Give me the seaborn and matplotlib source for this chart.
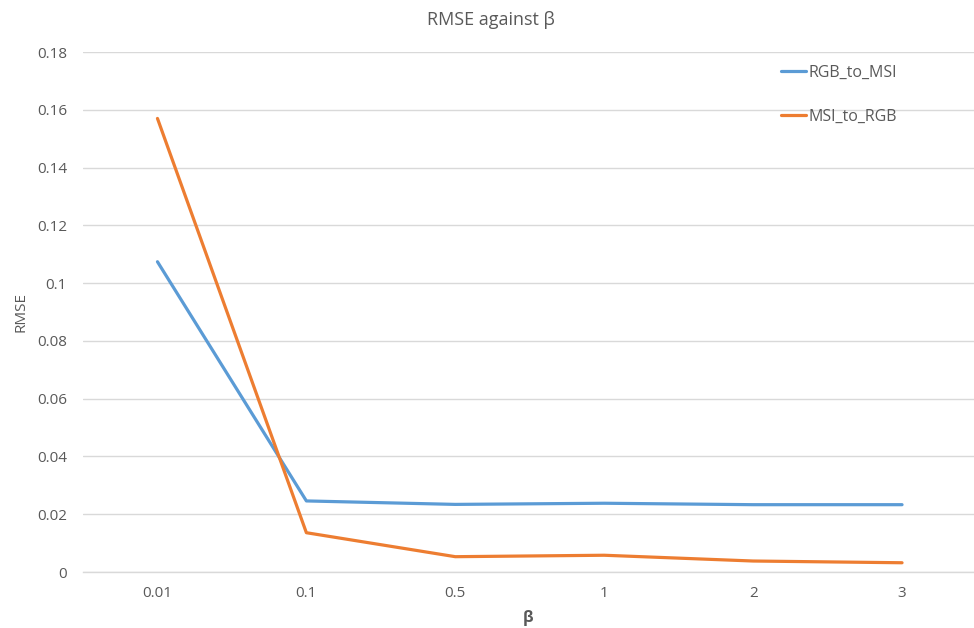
import numpy as np
import pandas as pd
import matplotlib
matplotlib.use("Agg")
import matplotlib.pyplot as plt
import seaborn as sns

categories = ["0.01", "0.1", "0.5", "1", "2", "3"]
rgb_to_msi = [0.1074, 0.0246, 0.0234, 0.0238, 0.0233, 0.0233]
msi_to_rgb = [0.1570, 0.0136, 0.0053, 0.0058, 0.0038, 0.0032]
series_names = ["RGB_to_MSI", "MSI_to_RGB"]
y_ticks = [0, 0.02, 0.04, 0.06, 0.08, 0.1, 0.12, 0.14, 0.16, 0.18]
y_tick_labels = ["0", "0.02", "0.04", "0.06", "0.08", "0.1", "0.12", "0.14", "0.16", "0.18"]

pos = np.arange(len(categories))
df = pd.DataFrame({
    "pos": np.concatenate([pos, pos]),
    "value": rgb_to_msi + msi_to_rgb,
    "series": [series_names[0]] * len(categories) + [series_names[1]] * len(categories),
})

sns.set_theme(style="white")
plt.rcParams["font.family"] = ["Open Sans", "DejaVu Sans"]
txt = "#595959"

W, H = 974, 628
left_px, right_px, top_px, bottom_px = 83, 976.5, 52, 572
fig = plt.figure(figsize=(W / 100, H / 100), dpi=100)
ax = fig.add_axes([left_px / W, 1 - bottom_px / H, (right_px - left_px) / W,
                   (bottom_px - top_px) / H])

sns.lineplot(data=df, x="pos", y="value", hue="series", hue_order=series_names,
             palette=["#5B9BD5", "#ED7D31"], linewidth=2.3, sort=False, ax=ax,
             legend=True)

ax.set_xlim(-0.5, 5.5)
ax.set_ylim(0, 0.18)
ax.set_yticks(y_ticks)
ax.set_yticklabels(y_tick_labels)
ax.set_xticks(pos)
ax.set_xticklabels(categories)
ax.tick_params(axis="both", length=0, labelsize=11, colors=txt)
ax.tick_params(axis="y", pad=11.5)
ax.tick_params(axis="x", pad=10)
ax.grid(axis="y", color="#d9d9d9", linewidth=1)
ax.grid(axis="x", visible=False)
for s in ["top", "right", "left"]:
    ax.spines[s].set_visible(False)
ax.spines["bottom"].set_color("#d9d9d9")
ax.spines["bottom"].set_linewidth(1)

ax.set_xlabel("")
ax.set_ylabel("")
fig.text(528 / W, 1 - 618 / H, "β", ha="center", va="center",
         fontsize=11.5, color=txt, fontweight="bold")
fig.text(21 / W, 1 - 312 / H, "RMSE", rotation=90, ha="center", va="center",
         fontsize=11, color=txt)
fig.text(491 / W, 1 - 20 / H, "RMSE against β", ha="center", va="center",
         fontsize=13, color=txt)

handles, labels = ax.get_legend_handles_labels()
leg = ax.legend(handles, labels, loc="upper left", bbox_to_anchor=(0.781, 0.975),
                frameon=False, fontsize=11.5, handlelength=1.6, handletextpad=0.15,
                labelspacing=1.72, borderpad=0, borderaxespad=0)
for t in leg.get_texts():
    t.set_color(txt)

fig.savefig("out.png", dpi=100)
